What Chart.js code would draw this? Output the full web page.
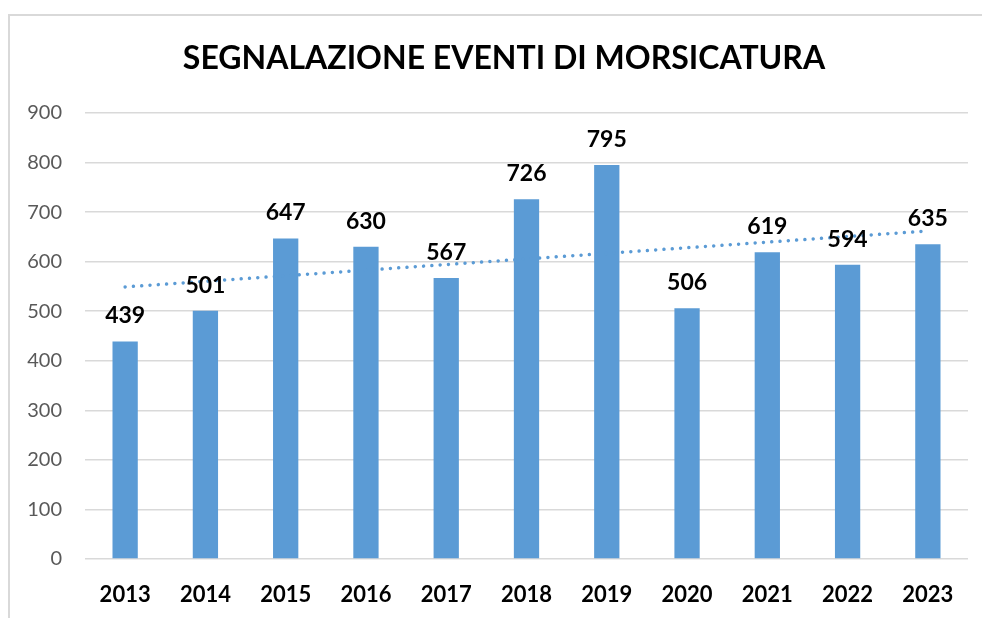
<!DOCTYPE html>
<html>
<head>
<meta charset="utf-8">
<script src="https://cdn.jsdelivr.net/npm/chart.js@4"></script>
<style>
  body { margin: 0; background: #fff; }
  #wrap { position: relative; width: 982px; height: 618px; overflow: hidden; }
  #frame { position: absolute; left: 8px; top: 14px; width: 1000px; height: 700px;
           border-top: 2px solid #d9d9d9; border-left: 2px solid #d9d9d9; }
  canvas { position: absolute; left: 0; top: 0; }
</style>
</head>
<body>
<div id="wrap">
  <div id="frame"></div>
  <canvas id="chart" width="982" height="618"></canvas>
</div>
<script>
const years = ['2013', '2014', '2015', '2016', '2017', '2018', '2019', '2020', '2021', '2022', '2023'];
const events = [439, 501, 647, 630, 567, 726, 795, 506, 619, 594, 635];
// linear trend (start and end only)
const trend = [549, null, null, null, null, null, null, null, null, null, 662];
const yTicks = [0, 100, 200, 300, 400, 500, 600, 700, 800, 900];
const titleText = 'SEGNALAZIONE EVENTI DI MORSICATURA';

const FONT = 'Lato, "Open Sans", sans-serif';

// title centred over the whole frame, plus value labels above the bars
const extraText = {
    id: 'extraText',
    afterDatasetsDraw(chart) {
        const ctx = chart.ctx;
        ctx.save();
        ctx.fillStyle = '#000';
        ctx.textAlign = 'center';
        ctx.textBaseline = 'alphabetic';

        ctx.font = 'bold 32px ' + FONT;
        ctx.fillText(titleText, 504, 69);

        ctx.font = 'bold 23px ' + FONT;
        chart.getDatasetMeta(1).data.forEach((bar, i) => {
            ctx.fillText(String(events[i]), bar.x, bar.y - 18);
        });
        ctx.restore();
    }
};

new Chart(document.getElementById('chart').getContext('2d'), {
    data: {
        labels: years,
        datasets: [
            {
                type: 'line',
                label: 'Lineare',
                data: trend,
                spanGaps: true,
                borderColor: '#5b9bd5',
                borderWidth: 3.5,
                borderCapStyle: 'round',
                borderDash: [0.01, 8.3],
                pointRadius: 0,
                fill: false,
                order: 0
            },
            {
                type: 'bar',
                label: 'Eventi',
                data: events,
                backgroundColor: '#5b9bd5',
                barPercentage: 0.315,
                categoryPercentage: 1,
                order: 1
            }
        ]
    },
    options: {
        responsive: false,
        animation: false,
        layout: { padding: { left: 0, right: 14, top: 113, bottom: 0 } },
        plugins: {
            legend: { display: false },
            tooltip: { enabled: false },
            title: { display: false }
        },
        scales: {
            x: {
                grid: { display: false },
                border: { display: false },
                ticks: {
                    color: '#000',
                    font: { family: FONT, size: 22, weight: 'bold' },
                    padding: 15,
                    maxRotation: 0
                },
                afterFit(s) { s.height = 59; }
            },
            y: {
                min: 0,
                max: 900,
                afterBuildTicks(s) { s.ticks = yTicks.map(v => ({ value: v })); },
                grid: { color: '#d9d9d9', lineWidth: 1.5, drawTicks: false },
                border: { display: false },
                ticks: {
                    color: '#595959',
                    font: { family: FONT, size: 20 },
                    padding: 23
                },
                afterFit(s) { s.width = 85; }
            }
        }
    },
    plugins: [extraText]
});
</script>
</body>
</html>
